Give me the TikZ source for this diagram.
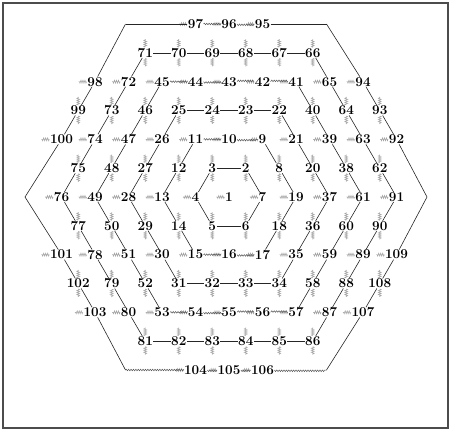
\documentclass[tikz,border=0pt]{standalone}
\usetikzlibrary{decorations.pathmorphing}
\begin{document}
\begin{tikzpicture}[x=1pt,y=-1pt,
  lab/.style={font=\fontsize{13.5}{13.5}\selectfont\bfseries, inner sep=0.3pt},
  edge/.style={line width=0.6pt, black!85},
  wavy/.style={line width=0.5pt, black!65, decorate, decoration={snake,segment length=2.4pt,amplitude=0.8pt}},
  tick/.style={line width=0.6pt, gray!70, decorate, decoration={snake,segment length=2pt,amplitude=1.4pt}}]
\useasboundingbox (0,0) rectangle (452,432);
\draw[line width=1.6pt, black!70] (3,3) rectangle (448,428);
% labels
\foreach \r/\L in {
  0/{97/-1,96/0,95/1},
  1/{71/-2.5,70/-1.5,69/-0.5,68/0.5,67/1.5,66/2.5},
  2/{98/-4,72/-3,45/-2,44/-1,43/0,42/1,41/2,65/3,94/4},
  3/{99/-4.5,73/-3.5,46/-2.5,25/-1.5,24/-0.5,23/0.5,22/1.5,40/2.5,64/3.5,93/4.5},
  4/{100/-5,74/-4,47/-3,26/-2,11/-1,10/0,9/1,21/2,39/3,63/4,92/5},
  5/{75/-4.5,48/-3.5,27/-2.5,12/-1.5,3/-0.5,2/0.5,8/1.5,20/2.5,38/3.5,62/4.5},
  6/{76/-5,49/-4,28/-3,13/-2,4/-1,1/0,7/1,19/2,37/3,61/4,91/5},
  7/{77/-4.5,50/-3.5,29/-2.5,14/-1.5,5/-0.5,6/0.5,18/1.5,36/2.5,60/3.5,90/4.5},
  8/{101/-5,78/-4,51/-3,30/-2,15/-1,16/0,17/1,35/2,59/3,89/4,109/5},
  9/{102/-4.5,79/-3.5,52/-2.5,31/-1.5,32/-0.5,33/0.5,34/1.5,58/2.5,88/3.5,108/4.5},
  10/{103/-4,80/-3,53/-2,54/-1,55/0,56/1,57/2,87/3,107/4},
  11/{81/-2.5,82/-1.5,83/-0.5,84/0.5,85/1.5,86/2.5},
  12/{104/-1,105/0,106/1}}{
  \foreach \n/\c in \L {
    \node[lab] (n\n) at ({229+\c*33.5},{24+\r*28.83}) {\n};
    \ifodd\r
      \draw[tick] ([yshift=0.5pt]n\n.north) -- ++(0pt,8pt);
      \draw[tick] ([yshift=-0.5pt]n\n.south) -- ++(0pt,-8pt);
    \else
      \draw[tick] ([xshift=-0.3pt]n\n.west) -- ++(-8pt,0pt);
    \fi
  }
}
% outer ring corners
\coordinate (c6tl) at (125.5,24);
\coordinate (c6tr) at (326.5,24);
\coordinate (c6l) at (25,197);
\coordinate (c6r) at (427,197);
\coordinate (c6bl) at (125.5,370);
\coordinate (c6br) at (326.5,370);
% ring 1
\draw[edge] (n3) -- (n2);
\draw[edge] (n5) -- (n6);
\draw[edge] (n3) -- (n4) -- (n5);
\draw[edge] (n2) -- (n7) -- (n6);
% ring 2
\draw[wavy] (n11) -- (n10) -- (n9);
\draw[wavy] (n15) -- (n16) -- (n17);
\draw[edge] (n11) -- (n12) -- (n13) -- (n14) -- (n15);
\draw[edge] (n9) -- (n8) -- (n19) -- (n18) -- (n17);
% ring 3
\draw[edge] (n25) -- (n24) -- (n23) -- (n22);
\draw[edge] (n31) -- (n32) -- (n33) -- (n34);
\draw[edge] (n25) -- (n26) -- (n27) -- (n28) -- (n29) -- (n30) -- (n31);
\draw[edge] (n22) -- (n21) -- (n20) -- (n37) -- (n36) -- (n35) -- (n34);
% ring 4
\draw[wavy] (n45) -- (n44) -- (n43) -- (n42) -- (n41);
\draw[wavy] (n53) -- (n54) -- (n55) -- (n56) -- (n57);
\draw[edge] (n45) -- (n46) -- (n47) -- (n48) -- (n49) -- (n50) -- (n51) -- (n52) -- (n53);
\draw[edge] (n41) -- (n40) -- (n39) -- (n38) -- (n61) -- (n60) -- (n59) -- (n58) -- (n57);
% ring 5
\draw[edge] (n71) -- (n70) -- (n69) -- (n68) -- (n67) -- (n66);
\draw[edge] (n81) -- (n82) -- (n83) -- (n84) -- (n85) -- (n86);
\draw[edge] (n71) -- (n72) -- (n73) -- (n74) -- (n75) -- (n76) -- (n77) -- (n78) -- (n79) -- (n80) -- (n81);
\draw[edge] (n66) -- (n65) -- (n64) -- (n63) -- (n62) -- (n91) -- (n90) -- (n89) -- (n88) -- (n87) -- (n86);
% ring 6
\draw[edge] (c6tl) -- (n97);
\draw[wavy] (n97) -- (n96) -- (n95);
\draw[edge] (n95) -- (c6tr);
\draw[wavy] (c6bl) -- (n104) -- (n105) -- (n106) -- (c6br);
\draw[edge] (c6tl) -- (n98) -- (n99) -- (n100) -- (c6l) -- (n101) -- (n102) -- (n103) -- (c6bl);
\draw[edge] (c6tr) -- (n94) -- (n93) -- (n92) -- (c6r) -- (n109) -- (n108) -- (n107) -- (c6br);
\end{tikzpicture}
\end{document}
